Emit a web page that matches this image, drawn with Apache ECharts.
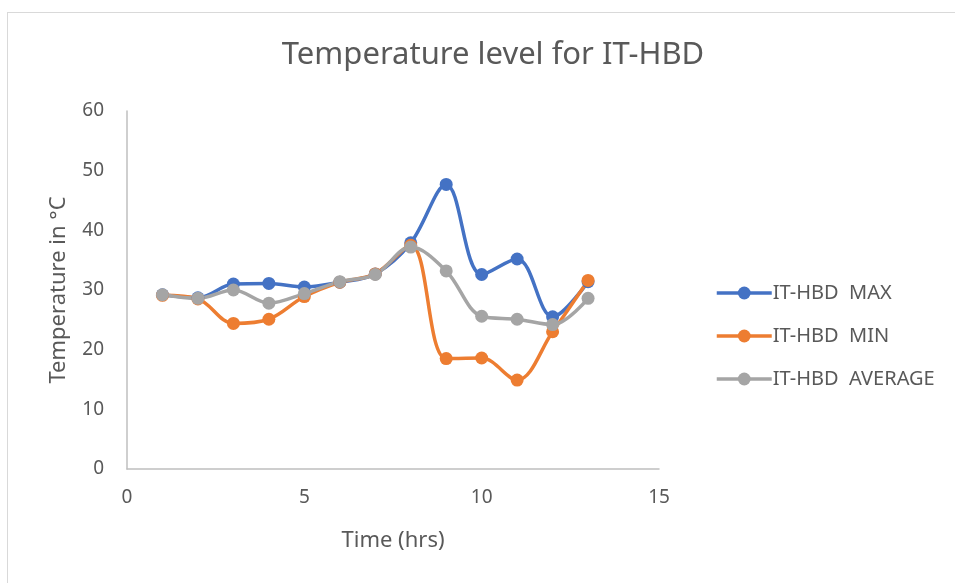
<!DOCTYPE html>
<html>
<head>
<meta charset="utf-8">
<script src="https://cdn.jsdelivr.net/npm/echarts@6/dist/echarts.min.js"></script>
<style>
  html, body { margin: 0; padding: 0; background: #fff; overflow: hidden; }
  #frame { position: absolute; left: 7px; top: 12px; width: 1000px; height: 700px; border: 1px solid #d9d9d9; }
  #chart { position: absolute; left: 0; top: 0; width: 955px; height: 583px; }
</style>
</head>
<body>
<div id="frame"></div>
<div id="chart"></div>
<script>
// hours
const hours = [1, 2, 3, 4, 5, 6, 7, 8, 9, 10, 11, 12, 13];
const tempMax = [29.2, 28.7, 31.0, 31.1, 30.5, 31.3, 32.7, 37.9, 47.7, 32.6, 35.2, 25.5, 31.4];
const tempMin = [29.1, 28.5, 24.4, 25.1, 28.9, 31.3, 32.7, 37.5, 18.5, 18.6, 14.9, 23.0, 31.6];
const tempAvg = [29.2, 28.6, 30.0, 27.8, 29.4, 31.4, 32.6, 37.2, 33.2, 25.6, 25.1, 24.2, 28.6];

const seriesNames = ['IT-HBD  MAX', 'IT-HBD  MIN', 'IT-HBD  AVERAGE'];
const colors = ['#4472C4', '#ED7D31', '#A5A5A5'];

const chart = echarts.init(document.getElementById('chart'), null, { renderer: 'canvas' });

const textColor = '#595959';
const font = 'Noto Sans';

const makeSeries = (name, values, color) => ({
  name,
  type: 'line',
  smooth: 0.35,
  data: hours.map((h, i) => [h, values[i]]),
  symbol: 'circle',
  symbolSize: 13,
  lineStyle: { width: 3.5, color },
  itemStyle: { color },
  emphasis: { disabled: true }
});

chart.setOption({
  animation: false,
  color: colors,
  title: {
    text: 'Temperature level for IT-HBD',
    left: 488,
    textAlign: 'center',
    top: 35,
    textStyle: { color: textColor, fontFamily: font, fontSize: 31, fontWeight: 'normal' }
  },
  legend: {
    orient: 'vertical',
    left: 710,
    top: 278,
    itemWidth: 55,
    itemHeight: 16,
    itemGap: 23,
    lineStyle: { width: 3.5 },
    textStyle: { color: textColor, fontFamily: font, fontSize: 20, padding: [0, 0, 0, -4] }
  },
  grid: { left: 127, right: 296, top: 111, bottom: 114 },
  xAxis: {
    type: 'value',
    min: 0,
    max: 15,
    interval: 5,
    name: 'Time (hrs)',
    nameLocation: 'middle',
    nameGap: 61,
    nameTextStyle: { color: textColor, fontFamily: font, fontSize: 22 },
    axisLine: { show: true, lineStyle: { color: '#bfbfbf', width: 1.5 } },
    axisTick: { show: false },
    splitLine: { show: false },
    axisLabel: { color: textColor, fontFamily: font, fontSize: 19, margin: 19 }
  },
  yAxis: {
    type: 'value',
    min: 0,
    max: 60,
    interval: 10,
    name: 'Temperature in °C',
    nameLocation: 'middle',
    nameGap: 57,
    nameTextStyle: { color: textColor, fontFamily: font, fontSize: 22 },
    axisLine: { show: true, lineStyle: { color: '#bfbfbf', width: 1.5 } },
    axisTick: { show: false },
    splitLine: { show: false },
    axisLabel: { color: textColor, fontFamily: font, fontSize: 19, margin: 23 }
  },
  series: [
    makeSeries(seriesNames[0], tempMax, colors[0]),
    makeSeries(seriesNames[1], tempMin, colors[1]),
    makeSeries(seriesNames[2], tempAvg, colors[2])
  ]
});
</script>
</body>
</html>
